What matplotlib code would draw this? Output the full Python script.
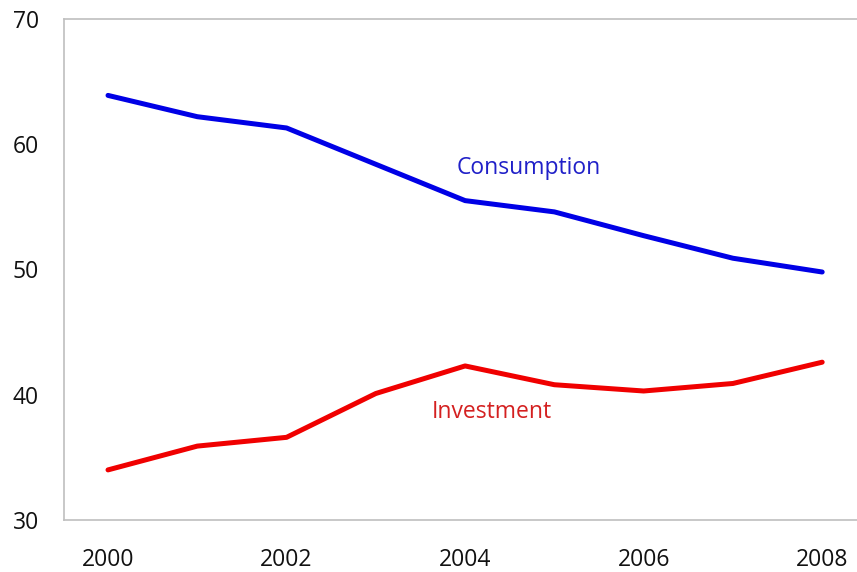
import matplotlib.pyplot as plt

plt.rcParams['font.family'] = ['Open Sans', 'DejaVu Sans']

years = [2000, 2001, 2002, 2003, 2004, 2005, 2006, 2007, 2008]
consumption = [63.9, 62.2, 61.3, 58.4, 55.5, 54.6, 52.7, 50.9, 49.8]
investment = [34.0, 35.9, 36.6, 40.1, 42.3, 40.8, 40.3, 40.9, 42.6]
xticks = [2000, 2002, 2004, 2006, 2008]
yticks = [30, 40, 50, 60, 70]

fig = plt.figure(figsize=(8.57, 5.72), dpi=100)
W, H = 857, 572
ax = fig.add_axes([64 / W, 1 - 520 / H, (W - 64) / W, (520 - 19) / H])

ax.plot(years, consumption, color='#0000e6', lw=3.6, solid_capstyle='round')
ax.plot(years, investment, color='#f00000', lw=3.6, solid_capstyle='round')

ax.text(2004.71, 58.1, 'Consumption', color='#2020c8', fontsize=16.5, ha='center', va='center')
ax.text(2004.30, 38.6, 'Investment', color='#d42020', fontsize=16.5, ha='center', va='center')

ax.set_xlim(1999.507, 2008.39)
ax.set_ylim(30, 70)
ax.set_xticks(xticks)
ax.set_yticks(yticks)
ax.tick_params(length=0, labelsize=16.5, colors='#111111')
ax.tick_params(axis='x', pad=20)
ax.tick_params(axis='y', pad=18)

for side in ['left', 'top', 'bottom']:
    ax.spines[side].set_color('#bfbfbf')
    ax.spines[side].set_linewidth(1.2)
ax.spines['right'].set_visible(False)

fig.savefig('out.png', dpi=100)
